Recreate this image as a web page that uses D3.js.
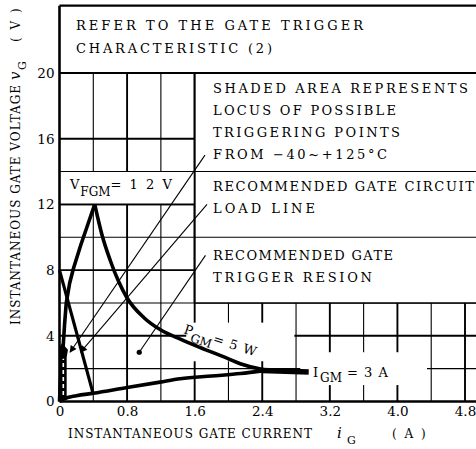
<!DOCTYPE html>
<html>
<head>
<meta charset="utf-8">
<script src="https://cdn.jsdelivr.net/npm/d3@7"></script>
<style>
  body { margin: 0; background: #fff; }
  svg { display: block; }
  text { font-family: "DejaVu Serif", "Liberation Serif", serif; fill: #000; }
</style>
</head>
<body>
<svg id="chart" width="476" height="449"></svg>
<script>
// ---------------- DATA ----------------
const xTickValues = [0, 0.8, 1.6, 2.4, 3.2, 4.0, 4.8];
const xTickLabels = ["0", "0.8", "1.6", "2.4", "3.2", "4.0", "4.8"];
const yTickValues = [0, 4, 8, 12, 16, 20];
const yTickLabels = ["0", "4", "8", "12", "16", "20"];
const xGridValues = [0.4, 0.8, 1.2, 1.6, 2.0, 2.4, 2.8, 3.2, 3.6, 4.0, 4.4, 4.8];
const yGridValues = [2, 4, 6, 8, 10, 12, 14, 16, 20];

// upper gate characteristic (A, V) up to V_FGM apex
const upperI = [0, 0.01, 0.025, 0.04, 0.06, 0.08, 0.12, 0.165, 0.25, 0.33, 0.417];
const upperV = [0, 1.2, 2.2, 3.1, 4.7, 6.0, 7.2, 8.1, 9.5, 10.7, 12.0];
// P_GM = 5 W curve
const pgmI = [0.417, 0.5, 0.6, 0.7, 0.8, 1.0, 1.2, 1.43, 1.66, 2.0, 2.14, 2.41, 2.6];
const pgmV = [12.0, 10.2, 8.6, 7.3, 6.3, 5.1, 4.35, 3.8, 3.3, 2.6, 2.3, 1.95, 1.85];
// lower gate characteristic
const lowerI = [0, 0.05, 0.2, 0.4, 0.8, 1.19, 1.43, 1.8, 2.14, 2.42];
const lowerV = [0, 0.15, 0.35, 0.5, 0.85, 1.18, 1.38, 1.55, 1.7, 1.88];
// I_GM = 3 A stub
const igmI = [2.4, 2.95];
const igmV = [1.88, 1.8];
// recommended gate circuit load line
const loadI = [0, 0.4];
const loadV = [8, 0.45];
// shaded area (locus of possible triggering points)
const shadeI = [0, 0, 0.03, 0.1, 0.085, 0.085, 0.04];
const shadeV = [0, 3.3, 3.55, 3.15, 2.7, 0.3, 0.1];
// leader lines: start (A, V) -> end (A, V)
const leaderStartI = [1.722, 1.746, 1.728];
const leaderStartV = [15.0, 12.0, 8.9];
const leaderEndI = [0.125, 0.25, 0.944];
const leaderEndV = [3.0, 3.0, 3.0];

const titleLines = ["REFER TO THE GATE TRIGGER", "CHARACTERISTIC (2)"];
const noteShaded = ["SHADED AREA REPRESENTS", "LOCUS OF POSSIBLE", "TRIGGERING POINTS", "FROM  \u221240~+125\u00B0C"];
const noteLoad = ["RECOMMENDED GATE CIRCUIT", "LOAD LINE"];
const noteRegion = ["RECOMMENDED GATE", "TRIGGER RESION"];
const xTitle = ["INSTANTANEOUS GATE CURRENT", "i", "G", "( A )"];
const yTitle = ["INSTANTANEOUS GATE VOLTAGE", "v", "G", "( V )"];

// ---------------- DRAWING ----------------
const svg = d3.select("#chart");
const x = d3.scaleLinear().domain([0, 4.8]).range([59.5, 465]);
const y = d3.scaleLinear().domain([0, 20]).range([401.5, 73]);
const X_END = 5.3, Y_TOP = 24.1;

const isMajorX = v => Math.abs(v / 0.8 - Math.round(v / 0.8)) < 1e-6;
const isMajorY = v => v % 4 === 0;

const g = svg.append("g");

// grid
g.selectAll("line.vg").data(xGridValues).join("line")
  .attr("x1", d => x(d)).attr("x2", d => x(d))
  .attr("y1", y(0)).attr("y2", y(20))
  .attr("stroke", "#000").attr("stroke-width", d => isMajorX(d) ? 1.9 : 1.1);
g.selectAll("line.hg").data(yGridValues).join("line")
  .attr("x1", x(0)).attr("x2", x(X_END))
  .attr("y1", d => y(d)).attr("y2", d => y(d))
  .attr("stroke", "#000").attr("stroke-width", d => isMajorY(d) ? 1.9 : 1.1);

// white panels (label areas)
const panels = [
  [0, X_END, 20, Y_TOP],     // header
  [0, 1.6, 12, 14],          // V_FGM
  [1.6, X_END, 6, 20],       // notes
  [1.5, 2.78, 2.45, 4.8],    // P_GM label
  [2.85, 4.35, 1.0, 3.0]     // I_GM label
];
g.selectAll("rect.panel").data(panels).join("rect")
  .attr("x", d => x(d[0])).attr("width", d => x(d[1]) - x(d[0]))
  .attr("y", d => y(d[3])).attr("height", d => y(d[2]) - y(d[3]))
  .attr("fill", "#fff");

// panel borders
const segs = [
  [0, Y_TOP, X_END, Y_TOP, 2.2],
  [0, 20, X_END, 20, 2.0],
  [1.6, 14, X_END, 14, 1.1],
  [1.6, 10, X_END, 10, 1.1],
  [1.6, 6, X_END, 6, 1.4],
  [1.6, 6, 1.6, 20, 2.0],
  [0, 14, 1.6, 14, 1.1],
  [0, 12, 1.6, 12, 1.9]
];
g.selectAll("line.seg").data(segs).join("line")
  .attr("x1", d => x(d[0])).attr("y1", d => y(d[1]))
  .attr("x2", d => x(d[2])).attr("y2", d => y(d[3]))
  .attr("stroke", "#000").attr("stroke-width", d => d[4]);

// axes lines
g.append("line").attr("x1", x(0)).attr("x2", x(X_END)).attr("y1", y(0)).attr("y2", y(0))
  .attr("stroke", "#000").attr("stroke-width", 2.6);
g.append("line").attr("x1", x(0)).attr("x2", x(0)).attr("y1", y(0)).attr("y2", y(Y_TOP))
  .attr("stroke", "#000").attr("stroke-width", 2.6);

// tick labels via axes
const TF = '"DejaVu Serif", serif';
const ax = svg.append("g").attr("transform", `translate(0,${y(0)})`)
  .call(d3.axisBottom(x).tickValues(xTickValues).tickFormat((d, i) => xTickLabels[i]).tickSize(0).tickPadding(5));
ax.select(".domain").remove();
ax.selectAll("text").style("font-family", TF).style("font-size", "13.5px");
const ay = svg.append("g").attr("transform", `translate(${x(0)},0)`)
  .call(d3.axisLeft(y).tickValues(yTickValues).tickFormat((d, i) => yTickLabels[i]).tickSize(0).tickPadding(5));
ay.select(".domain").remove();
ay.selectAll("text").style("font-family", TF).style("font-size", "13.5px");

// curves
const line = d3.line().x(d => x(d[0])).y(d => y(d[1]));
const smooth = d3.line().x(d => x(d[0])).y(d => y(d[1])).curve(d3.curveMonotoneX);
const upperPts = upperI.map((v, i) => [v, upperV[i]]);
const pgmPts = pgmI.map((v, i) => [v, pgmV[i]]);
const lowerPts = lowerI.map((v, i) => [v, lowerV[i]]);
const igmPts = igmI.map((v, i) => [v, igmV[i]]);
const loadPts = loadI.map((v, i) => [v, loadV[i]]);
const shadePts = shadeI.map((v, i) => [v, shadeV[i]]);

const curves = svg.append("g").attr("fill", "none").attr("stroke", "#000")
  .attr("stroke-linejoin", "round");
curves.append("path").attr("d", line(upperPts)).attr("stroke-width", 3.6);
curves.append("path").attr("d", smooth(pgmPts)).attr("stroke-width", 3.6);
curves.append("path").attr("d", smooth(lowerPts)).attr("stroke-width", 3.6);
curves.append("path").attr("d", line(igmPts)).attr("stroke-width", 5.5).attr("stroke-linecap", "butt");
curves.append("path").attr("d", line(loadPts)).attr("stroke-width", 3.2);

// shaded area
svg.append("path").attr("d", line(shadePts) + "Z").attr("fill", "#000");
svg.append("line").attr("x1", x(0.045)).attr("x2", x(0.045)).attr("y1", y(0.4)).attr("y2", y(2.6))
  .attr("stroke", "#fff").attr("stroke-width", 1.6).attr("stroke-dasharray", "4,3");

// leader lines
const defs = svg.append("defs");
defs.append("marker").attr("id", "arr").attr("viewBox", "0 0 10 10")
  .attr("refX", 9).attr("refY", 5).attr("markerWidth", 8).attr("markerHeight", 7)
  .attr("markerUnits", "userSpaceOnUse").attr("orient", "auto")
  .append("path").attr("d", "M0,0 L10,5 L0,10 Z").attr("fill", "#000");
const leaders = leaderStartI.map((v, i) => ({ x1: v, y1: leaderStartV[i], x2: leaderEndI[i], y2: leaderEndV[i], arrow: i < 2 }));
svg.selectAll("line.lead").data(leaders).join("line")
  .attr("x1", d => x(d.x1)).attr("y1", d => y(d.y1))
  .attr("x2", d => x(d.x2)).attr("y2", d => y(d.y2))
  .attr("stroke", "#000").attr("stroke-width", 1.1)
  .attr("marker-end", d => d.arrow ? "url(#arr)" : null);
svg.append("circle").attr("cx", x(leaderEndI[2])).attr("cy", y(leaderEndV[2])).attr("r", 2.6).attr("fill", "#000");

// text blocks
const FS = 13;
function block(lines, i0, v0, lead, widths) {
  lines.forEach((t, k) => {
    svg.append("text").attr("x", x(i0)).attr("y", y(v0) + k * lead)
      .attr("font-size", FS).attr("textLength", widths[k]).attr("lengthAdjust", "spacing")
      .text(t);
  });
}
block(titleLines, 0.195, 22.59, 22.5, [287, 196]);
block(noteShaded, 1.817, 18.78, 22, [255, 183, 187, 174]);
block(noteLoad, 1.817, 12.79, 21.5, [261, 102]);
block(noteRegion, 1.817, 8.61, 21.5, [180, 159]);

// V_FGM label
const vf = svg.append("text").attr("x", x(0.124)).attr("y", y(12.94)).attr("font-size", 13);
vf.append("tspan").text("V");
vf.append("tspan").attr("dy", 7).attr("dx", 1).attr("font-size", 12).text("FGM");
vf.append("tspan").attr("dy", -7).attr("letter-spacing", 2).text("= 1 2 V");

// P_GM label
const pg = svg.append("text").attr("font-size", 13)
  .attr("transform", `translate(${x(1.462)},${y(4.17)}) rotate(18)`);
pg.append("tspan").text("P");
pg.append("tspan").attr("dy", 6).attr("font-size", 12).text("GM");
pg.append("tspan").attr("dy", -6).attr("letter-spacing", 1).text("= 5 W");

// I_GM label
const ig = svg.append("text").attr("x", x(3.0)).attr("y", y(1.49)).attr("font-size", 13);
ig.append("tspan").text("I");
ig.append("tspan").attr("dy", 5).attr("dx", 2).attr("font-size", 12).text("GM");
ig.append("tspan").attr("dy", -5).attr("letter-spacing", 1).text(" = 3 A");

// axis titles
svg.append("text").attr("x", 68).attr("y", 438).attr("font-size", 12)
  .attr("textLength", 244).attr("lengthAdjust", "spacing").text(xTitle[0]);
svg.append("text").attr("x", 337).attr("y", 438).attr("font-size", 15).attr("font-style", "italic").text(xTitle[1]);
svg.append("text").attr("x", 347).attr("y", 444).attr("font-size", 11).text(xTitle[2]);
svg.append("text").attr("x", 392).attr("y", 438).attr("font-size", 12).attr("letter-spacing", 2).text(xTitle[3]);

const yt = svg.append("g").attr("transform", "translate(20,0) rotate(-90)");
yt.append("text").attr("x", -325).attr("y", 0).attr("font-size", 12)
  .attr("textLength", 240).attr("lengthAdjust", "spacing").text(yTitle[0]);
yt.append("text").attr("x", -80).attr("y", 0).attr("font-size", 15).attr("font-style", "italic").text(yTitle[1]);
yt.append("text").attr("x", -70).attr("y", 6).attr("font-size", 11).text(yTitle[2]);
yt.append("text").attr("x", -42).attr("y", 0).attr("font-size", 12).attr("letter-spacing", 2).text(yTitle[3]);
</script>
</body>
</html>
